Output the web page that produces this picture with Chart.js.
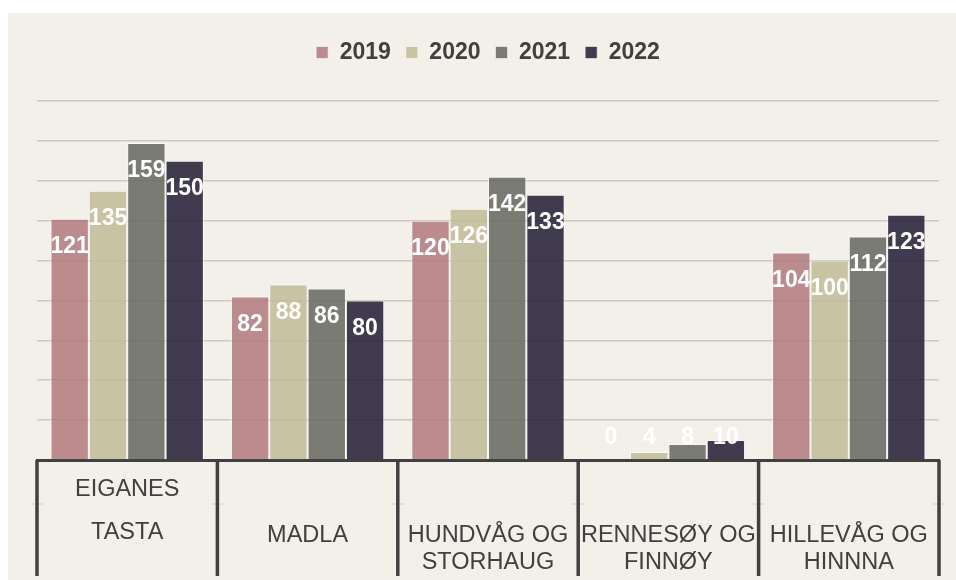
<!DOCTYPE html>
<html>
<head>
<meta charset="utf-8">
<script src="https://cdn.jsdelivr.net/npm/chart.js@4.4.1/dist/chart.umd.min.js"></script>
<style>
  html, body { margin: 0; padding: 0; background: #ffffff; }
  #wrap { position: absolute; left: 8px; top: 13px; width: 948px; height: 567px; background: #f3f0ea; }
</style>
</head>
<body>
<div id="wrap"><canvas id="chart"></canvas></div>
<script>
// data
const categories = [
  ["EIGANES", "TASTA"],
  ["MADLA"],
  ["HUNDVÅG OG", "STORHAUG"],
  ["RENNESØY OG", "FINNØY"],
  ["HILLEVÅG OG", "HINNNA"],
];
const years = ["2019", "2020", "2021", "2022"];
const v2019 = [121, 82, 120, 0, 104];
const v2020 = [135, 88, 126, 4, 100];
const v2021 = [159, 86, 142, 8, 112];
const v2022 = [150, 80, 133, 10, 123];
const yTicks = [0, 20, 40, 60, 80, 100, 120, 140, 160, 180];

const colors = ["rgba(179,124,129,0.88)", "rgba(194,188,152,0.88)", "rgba(105,107,98,0.88)", "rgba(40,33,58,0.88)"];
const FONT = "'Liberation Sans', Arial, sans-serif";

// push legend down so the plot starts lower
const legendGap = {
  id: "legendGap",
  beforeInit(chart) {
    const fit = chart.legend.fit;
    chart.legend.fit = function () {
      fit.bind(chart.legend)();
      this.height += 27;
    };
  },
};

// white value labels at the top of each bar
const barLabels = {
  id: "barLabels",
  afterDatasetsDraw(chart) {
    const ctx = chart.ctx;
    ctx.save();
    ctx.fillStyle = "#ffffff";
    ctx.font = "bold 23px " + FONT;
    ctx.textAlign = "center";
    ctx.textBaseline = "middle";
    chart.data.datasets.forEach((ds, i) => {
      chart.getDatasetMeta(i).data.forEach((bar, j) => {
        const h = bar.base - bar.y;
        const y = h > 45 ? bar.y + 28 : bar.base - 22;
        ctx.fillText(String(ds.data[j]), bar.x, y);
      });
    });
    ctx.restore();
  },
};

// category separators below the axis
const separators = {
  id: "separators",
  afterDraw(chart) {
    const xs = chart.scales.x;
    const ctx = chart.ctx;
    const bottom = chart.height - 4;
    ctx.save();
    for (let i = 0; i <= categories.length; i++) {
      const x = xs.getPixelForValue(i - 0.5);
      ctx.strokeStyle = "#cfcbc4";
      ctx.lineWidth = 1;
      ctx.beginPath();
      ctx.moveTo(x - 6, xs.top + 44);
      ctx.lineTo(x + 6, xs.top + 44);
      ctx.stroke();
      ctx.strokeStyle = "#404040";
      ctx.lineWidth = 3.5;
      ctx.beginPath();
      ctx.moveTo(x, xs.top);
      ctx.lineTo(x, bottom);
      ctx.stroke();
    }
    ctx.restore();
  },
};

new Chart(document.getElementById("chart"), {
  type: "bar",
  data: {
    labels: categories,
    datasets: [v2019, v2020, v2021, v2022].map((d, i) => ({
      label: years[i],
      data: d,
      backgroundColor: colors[i],
      borderColor: "rgba(255,255,255,0.55)",
      borderWidth: 1,
      categoryPercentage: 0.85,
      barPercentage: 1.0,
    })),
  },
  options: {
    responsive: true,
    maintainAspectRatio: false,
    animation: false,
    layout: { padding: { top: 13, right: 17, left: 29, bottom: 0 } },
    plugins: {
      legend: {
        position: "top",
        labels: {
          color: "#404040",
          font: { family: FONT, size: 23, weight: "bold" },
          boxWidth: 12,
          boxHeight: 12,
          padding: 15,
        },
      },
      tooltip: { enabled: false },
    },
    scales: {
      x: {
        grid: { display: false },
        border: { display: true, color: "#404040", width: 3 },
        ticks: {
          color: "#404040",
          autoSkip: false,
          maxRotation: 0,
          minRotation: 0,
          padding: 0,
          font: (c) => ({ family: FONT, size: 23.5, lineHeight: c.index === 0 ? "43px" : "27px" }),
          callback: function (v, i) {
            const lines = categories[i];
            if (i === 0) return lines;
            return ["", ""].concat(lines);
          },
        },
        afterFit(scale) { scale.height = 120; },
      },
      y: {
        min: 0,
        max: 180,
        afterBuildTicks(scale) { scale.ticks = yTicks.map((v) => ({ value: v })); },
        ticks: { display: false },
        grid: { color: "#cdc9c2", lineWidth: 1.5, drawTicks: false },
        border: { display: false },
        afterFit(scale) { scale.width = 0; },
      },
    },
  },
  plugins: [legendGap, barLabels, separators],
});
</script>
</body>
</html>
